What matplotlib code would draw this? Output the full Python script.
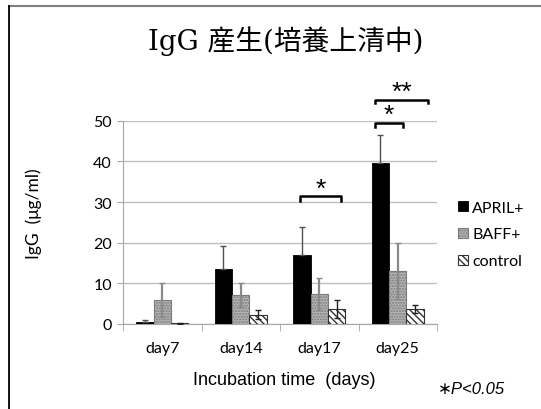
import numpy as np
import matplotlib
matplotlib.use("Agg")
import matplotlib.pyplot as plt
from matplotlib.lines import Line2D

days = ["day7", "day14", "day17", "day25"]
series = ["APRIL+", "BAFF+", "control"]
april = [0.5, 13.5, 17.0, 39.7]
april_err = [0.4, 5.7, 6.8, 6.7]
baff = [5.9, 7.1, 7.4, 13.0]
baff_err = [4.3, 2.9, 4.0, 6.8]
ctrl = [0.2, 2.3, 3.7, 3.7]
ctrl_err = [0.1, 1.1, 2.2, 0.9]

W, H = 541, 410
fig = plt.figure(figsize=(W / 100, H / 100), dpi=100)
ax = fig.add_axes([123 / W, 1 - 325 / H, (437 - 123) / W, (325 - 121.7) / H])

calibri = ["Lato", "DejaVu Sans"]
arial = ["Liberation Sans", "DejaVu Sans"]
x = np.arange(len(days))
bw = 0.222

ax.bar(x - bw, april, bw, color="black", edgecolor="black", lw=0.6,
       label=series[0], zorder=3)
ax.bar(x, baff, bw, color="#B5B5B5", edgecolor="#7A7A7A", hatch="......",
       lw=0.8, label=series[1], zorder=3)
ax.bar(x + bw, ctrl, bw, color="white", edgecolor="#333333", hatch="\\\\\\\\\\",
       lw=0.8, label=series[2], zorder=3)

ax.errorbar(x - bw, april, yerr=[np.zeros(4), april_err], fmt="none",
            ecolor="#505050", elinewidth=1, capsize=2.3, capthick=1, zorder=4)
ax.errorbar(x, baff, yerr=baff_err, fmt="none", ecolor="#8A8A8A",
            elinewidth=1.6, capsize=2.3, capthick=1, zorder=4)
ax.errorbar(x + bw, ctrl, yerr=ctrl_err, fmt="none", ecolor="#202020",
            elinewidth=1, capsize=2.3, capthick=1, zorder=4)

ax.set_xlim(-0.5, 3.5)
ax.set_ylim(0, 50)
ax.set_yticks(range(0, 51, 10))
ax.yaxis.grid(True, color="#C0C0C0", lw=1)
ax.set_axisbelow(True)
for s in ["top", "right"]:
    ax.spines[s].set_visible(False)
ax.spines["left"].set_color("#A6A6A6")
ax.spines["bottom"].set_color("#A6A6A6")
ax.tick_params(axis="y", colors="#A6A6A6", length=4, labelcolor="black",
               labelsize=11.5, pad=4)
ax.set_xticks(x)
ax.set_xticks(np.arange(-0.5, 4, 1), minor=True)
ax.tick_params(axis="x", which="major", length=0, labelsize=11.5, pad=12)
ax.tick_params(axis="x", which="minor", length=5, colors="#A6A6A6")
ax.set_xticklabels(days)
for t in ax.get_xticklabels() + ax.get_yticklabels():
    t.set_family(calibri)

# significance brackets
def bracket(x0, x1, y, dy, stars):
    ax.plot([x0, x0, x1, x1], [y - dy, y, y, y - dy], color="black", lw=1.8,
            clip_on=False, zorder=5)
    ax.text((x0 + x1) / 2, y - 1.0, stars, ha="center", va="bottom",
            fontsize=19, family=arial, clip_on=False)

bracket(1.76, 2.28, 31.4, 1.2, "*")
bracket(2.71, 3.07, 49.4, 0.9, "*")
bracket(2.71, 3.39, 55.2, 0.9, "**")

ax.set_ylabel("IgG  (\u03bcg/ml)", fontsize=12.5, family=calibri)
ax.yaxis.set_label_coords((42 - 123) / (437 - 123), (325 - 214) / (325 - 121.7))

fig.text(284 / W, 1 - 381 / H, "Incubation time  (days)", ha="center", va="center",
         fontsize=13, family=arial)
fig.text(438 / W, 1 - 390 / H, "\u2217P<0.05", ha="left", va="center",
         fontsize=12, style="italic", family=arial)
fig.text(286 / W, 1 - 41 / H, "IgG 産生(培養上清中)", ha="center", va="center",
         fontsize=20, family=["DejaVu Serif", "Noto Sans CJK JP"])

ax.legend(loc="center left", bbox_to_anchor=(458 / W, 1 - 235.5 / H),
          bbox_transform=fig.transFigure, frameon=False, handlelength=0.6,
          handleheight=0.6, handletextpad=0.3, labelspacing=0.8,
          borderpad=0, borderaxespad=0, prop={"family": calibri, "size": 11.5})

# frame lines of the slide
fig.add_artist(Line2D([9 / W, 1], [1 - 7 / H, 1 - 7 / H], color="#808080", lw=1.5))
fig.add_artist(Line2D([9 / W, 9 / W], [0, 1 - 7 / H], color="black", lw=1.3))

fig.savefig("out.png", dpi=100)
